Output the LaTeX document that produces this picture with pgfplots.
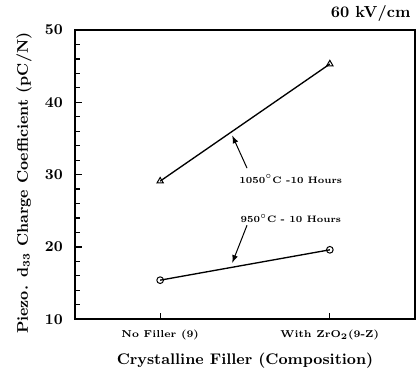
\documentclass[border=0pt]{standalone}
\usepackage{pgfplots}
\pgfplotsset{compat=1.18}
\begin{document}
\begin{tikzpicture}
\begin{axis}[
  scale only axis,
  width=203pt, height=173pt,
  xmin=-0.5, xmax=1.5,
  ymin=10, ymax=50,
  xtick={0,1},
  xticklabels={No Filler (9), With ZrO$_{\mathbf{2}}$(9-Z)},
  ytick={10,20,30,40,50},
  minor y tick num=4,
  tick align=inside,
  xtick pos=bottom, ytick pos=left,
  major tick length=4pt, minor tick length=2.5pt,
  axis line style={line width=1.1pt},
  every tick/.style={black, line width=0.7pt},
  x tick label style={font=\bfseries\fontsize{6}{7}\selectfont, yshift=-3pt},
  y tick label style={font=\boldmath\bfseries\fontsize{8.6}{10}\selectfont, xshift=-4pt},
  xlabel={Crystalline Filler (Composition)},
  ylabel={Piezo. d$_{\mathbf{33}}$ Charge Coefficient (pC/N)},
  xlabel style={font=\bfseries\fontsize{9.2}{10}\selectfont, at={(axis description cs:0.5,-0.142)}, anchor=center},
  ylabel style={font=\bfseries\fontsize{9.2}{10}\selectfont, at={(axis description cs:-0.151,0.47)}, anchor=center},
  clip=false,
]
\addplot[black, line width=0.8pt, mark=triangle, mark size=2.2pt, mark options={solid, line width=0.6pt}]
  coordinates {(0,29.1) (1,45.3)};
\addplot[black, line width=0.8pt, mark=o, mark size=2pt, mark options={solid, line width=0.6pt}]
  coordinates {(0,15.4) (1,19.6)};
\node[font=\bfseries\fontsize{5.6}{7}\selectfont, anchor=center] at (axis cs:0.77,29.4) {1050$^{\circ}$C -10 Hours};
\node[font=\bfseries\fontsize{5.6}{7}\selectfont, anchor=center] at (axis cs:0.77,23.9) {950$^{\circ}$C - 10 Hours};
\draw[-latex, line width=0.6pt] (axis cs:0.512,30.9) -- (axis cs:0.425,35.4);
\draw[-latex, line width=0.6pt] (axis cs:0.512,23.0) -- (axis cs:0.425,17.8);
\node[font=\bfseries\fontsize{9.6}{10}\selectfont, anchor=south east, yshift=1.5pt, xshift=1pt] at (rel axis cs:1,1) {60 kV/cm};
\path (axis description cs:-0.222,0.5);
\end{axis}
\end{tikzpicture}
\end{document}
